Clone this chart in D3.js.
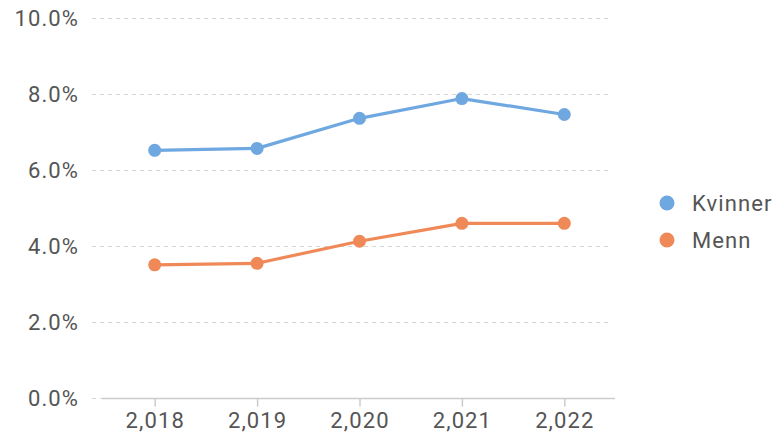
<!DOCTYPE html>
<html><head><meta charset="utf-8">
<script src="https://cdn.jsdelivr.net/npm/d3@7"></script>
<style>
html,body{margin:0;padding:0;background:#fff;}
text{font-family:Roboto,"Noto Sans",sans-serif;}
</style></head>
<body><svg id="c" width="778" height="438"></svg>
<script>
const years = [2018, 2019, 2020, 2021, 2022];
const yearLabels = ["2,018", "2,019", "2,020", "2,021", "2,022"];
const kvinner = [6.51, 6.56, 7.35, 7.87, 7.45];
const menn = [3.50, 3.54, 4.12, 4.59, 4.59];
const seriesNames = ["Kvinner", "Menn"];
const seriesColors = ["#6fa8e0", "#ef8a58"];
const yTicks = [0, 2, 4, 6, 8, 10];

const svg = d3.select("#c");
const x = d3.scalePoint().domain(years).range([103.5, 615.5]).padding(0.5);
const y = d3.scaleLinear().domain([0, 10]).range([398, 17.5]);

// grid
svg.append("g").selectAll("line").data(yTicks).join("line")
  .attr("x1", 92).attr("x2", 612)
  .attr("y1", d => Math.round(y(d)) + 0.5).attr("y2", d => Math.round(y(d)) + 0.5)
  .attr("stroke", "#d6d6d6").attr("stroke-width", 1).attr("stroke-dasharray", "4,4");

// y labels
const yAxis = d3.axisLeft(y).tickValues(yTicks).tickSize(0).tickPadding(0)
  .tickFormat(d => d3.format(".1f")(d) + "%");
const gy = svg.append("g").attr("transform", "translate(79,0)").call(yAxis);
gy.select(".domain").remove();
gy.selectAll("text").attr("font-size", 22).attr("fill", "#555").attr("letter-spacing", "1.1px")
  .attr("font-family", "Roboto").attr("dy", "0.35em");

// x axis
const xAxis = d3.axisBottom(x).tickSizeOuter(0).tickSizeInner(8).tickPadding(6)
  .tickFormat((d, i) => yearLabels[i]);
const gx = svg.append("g").attr("transform", "translate(0,398.5)").call(xAxis);
gx.select(".domain").attr("stroke", "#cccccc").attr("stroke-width", 1.5).attr("d", "M102,0H615");
gx.selectAll(".tick line").attr("stroke", "#cccccc").attr("stroke-width", 1.5);
gx.selectAll("text").attr("font-size", 22).attr("fill", "#555").attr("letter-spacing", "1.1px")
  .attr("font-family", "Roboto");

// lines
const data = [kvinner, menn];
const line = d3.line().x((d, i) => x(years[i])).y(d => y(d));
data.forEach((vals, k) => {
  svg.append("path").datum(vals).attr("d", line).attr("fill", "none")
    .attr("stroke", seriesColors[k]).attr("stroke-width", 3.2).attr("stroke-linejoin", "round");
  svg.append("g").selectAll("circle").data(vals).join("circle")
    .attr("cx", (d, i) => x(years[i])).attr("cy", d => y(d)).attr("r", 6.5)
    .attr("fill", seriesColors[k]);
});

// legend
const lg = svg.append("g");
seriesNames.forEach((n, k) => {
  const cy = 203 + k * 37;
  lg.append("circle").attr("cx", 667).attr("cy", cy).attr("r", 7.5).attr("fill", seriesColors[k]);
  lg.append("text").attr("x", 692).attr("y", cy).attr("dy", "0.36em").text(n)
    .attr("font-size", 22).attr("fill", "#555").attr("letter-spacing", "1.1px");
});
</script></body></html>
